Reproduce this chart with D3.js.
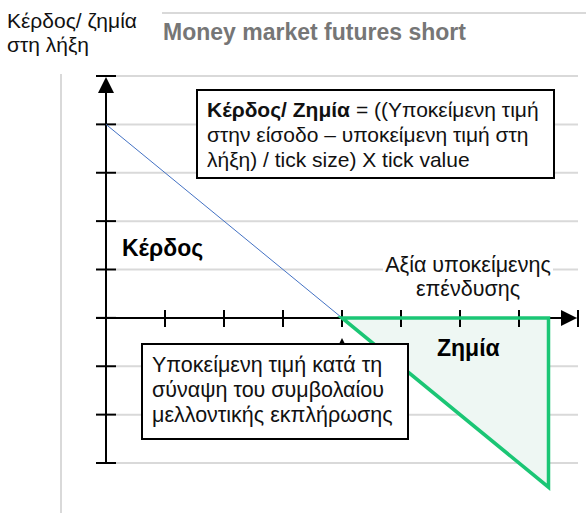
<!DOCTYPE html>
<html>
<head>
<meta charset="utf-8">
<script src="https://cdn.jsdelivr.net/npm/d3@7"></script>
<style>
  body { margin: 0; background: #fff; }
  text { font-family: "Liberation Sans", Arial, sans-serif; }
</style>
</head>
<body>
<div id="chart"></div>
<script>
// Data
let xTicks = [1, 2, 3, 4, 5, 6, 7];
let yTicks = [-3, -2, -1, 0, 1, 2, 3, 4, 5];
let profitLine = [{x: 0, y: 4}, {x: 4, y: 0}];
let lossArea = [{x: 4, y: 0}, {x: 7.5, y: 0}, {x: 7.5, y: -3.5}];

let yAxisTitle = ["Κέρδος/ ζημία", "στη λήξη"];
let chartTitle = "Money market futures short";
let xAxisTitle = ["Αξία υποκείμενης", "επένδυσης"];
let formulaLines = [["Κέρδος/ Ζημία", " = ((Υποκείμενη τιμή"], ["", "στην είσοδο – υποκείμενη τιμή στη"], ["", "λήξη) / tick size) X tick value"]];
let entryLines = ["Υποκείμενη τιμή κατά τη", "σύναψη του συμβολαίου", "μελλοντικής εκπλήρωσης"];

//Width and Height
let width = 586;
let height = 513;

//Colors
let colors = {grid: "#d9d9d9", axis: "#000", blue: "#4472c4", green: "#1bc675", greenFill: "#eef7f3", title: "#767676"};

let x = d3.scaleLinear().domain([0, 8]).range([106, 578]);
let y = d3.scaleLinear().domain([-3, 5]).range([463, 76]);

let svg = d3.select("#chart")
  .append("svg")
  .attr("width", width)
  .attr("height", height);

//Frame lines
svg.append("line")
  .attr("x1", 162).attr("x2", width)
  .attr("y1", 13).attr("y2", 13)
  .attr("stroke", colors.grid).attr("stroke-width", 2);
svg.append("line")
  .attr("x1", 61).attr("x2", 61)
  .attr("y1", 74).attr("y2", height)
  .attr("stroke", colors.grid).attr("stroke-width", 2);

//Titles
svg.append("g")
  .selectAll("text")
  .data(yAxisTitle)
  .enter()
  .append("text")
  .attr("x", 7)
  .attr("y", (d, i) => 28 + i * 24)
  .attr("font-size", 21)
  .attr("fill", "#111")
  .text(d => d);

svg.append("text")
  .attr("x", 163)
  .attr("y", 40)
  .attr("font-size", 23)
  .attr("font-weight", "bold")
  .attr("fill", colors.title)
  .text(chartTitle);

//Gridlines
svg.append("g")
  .selectAll("line")
  .data(yTicks)
  .enter()
  .append("line")
  .attr("x1", x(0) + 10)
  .attr("x2", x(8))
  .attr("y1", d => y(d))
  .attr("y2", d => y(d))
  .attr("stroke", colors.grid)
  .attr("stroke-width", 2);

//Loss area
let pts = lossArea.map(d => [x(d.x), y(d.y)]);
svg.append("path")
  .attr("d", "M" + pts.join("L") + "Z")
  .attr("fill", colors.greenFill)
  .attr("stroke", "none");

//Axes
let axis = svg.append("g").attr("stroke", colors.axis).attr("stroke-width", 2);
axis.append("line")
  .attr("x1", x(0)).attr("x2", x(0))
  .attr("y1", y(5) + 10).attr("y2", y(-3));
axis.append("line")
  .attr("x1", x(0) - 10).attr("x2", x(8) - 12)
  .attr("y1", y(0)).attr("y2", y(0));

axis.selectAll(".ytick")
  .data(yTicks)
  .enter()
  .append("line")
  .attr("x1", x(0) - 10).attr("x2", x(0) + 10)
  .attr("y1", d => y(d)).attr("y2", d => y(d));

axis.selectAll(".xtick")
  .data(xTicks.concat([8]))
  .enter()
  .append("line")
  .attr("x1", d => x(d)).attr("x2", d => x(d))
  .attr("y1", y(0) - 8).attr("y2", y(0) + 9);

//Arrowheads
svg.append("path")
  .attr("d", `M${x(0)},${y(5) + 1}L${x(0) - 8},${y(5) + 17}L${x(0) + 8},${y(5) + 17}Z`)
  .attr("fill", colors.axis);
svg.append("path")
  .attr("d", `M${x(8) - 1},${y(0)}L${x(8) - 17},${y(0) - 8}L${x(8) - 17},${y(0) + 8}Z`)
  .attr("fill", colors.axis);

//Profit line
let line = d3.line().x(d => x(d.x)).y(d => y(d.y));
svg.append("path")
  .datum(profitLine)
  .attr("d", line)
  .attr("fill", "none")
  .attr("stroke", colors.blue)
  .attr("stroke-width", 1);

//Loss outline
svg.append("path")
  .datum(lossArea)
  .attr("d", d => line(d) + "Z")
  .attr("fill", "none")
  .attr("stroke", colors.green)
  .attr("stroke-width", 3.5)
  .attr("stroke-linejoin", "miter");

//Pointer from entry box to the strike
svg.append("path")
  .attr("d", `M${x(4)},${y(0) + 20}L${x(4) - 3},${y(0) + 26}L${x(4) + 3},${y(0) + 26}Z`)
  .attr("fill", colors.axis);

//Region labels
svg.append("text")
  .attr("x", 122).attr("y", 256)
  .attr("font-size", 23).attr("font-weight", "bold")
  .text("Κέρδος");
svg.append("text")
  .attr("x", 437).attr("y", 356)
  .attr("font-size", 23).attr("font-weight", "bold")
  .text("Ζημία");

//X axis title with white background
svg.append("rect")
  .attr("x", 383).attr("y", 255)
  .attr("width", 170).attr("height", 44)
  .attr("fill", "#fff");
svg.append("g")
  .selectAll("text")
  .data(xAxisTitle)
  .enter()
  .append("text")
  .attr("x", 468)
  .attr("y", (d, i) => 272 + i * 24)
  .attr("text-anchor", "middle")
  .attr("font-size", 21.5)
  .attr("fill", "#111")
  .text(d => d);

//Formula box
svg.append("rect")
  .attr("x", 197).attr("y", 90)
  .attr("width", 357).attr("height", 88)
  .attr("fill", "#fff")
  .attr("stroke", "#000")
  .attr("stroke-width", 2);
let formula = svg.append("text")
  .attr("font-size", 21)
  .attr("fill", "#111");
formulaLines.forEach(function(l, i) {
  let row = formula.append("tspan").attr("x", 207).attr("y", 117 + i * 25);
  if (l[0]) row.append("tspan").attr("font-weight", "bold").text(l[0]);
  row.append("tspan").text(l[1]);
});

//Entry price box
svg.append("rect")
  .attr("x", 142).attr("y", 344)
  .attr("width", 266).attr("height", 95)
  .attr("fill", "#fff")
  .attr("stroke", "#000")
  .attr("stroke-width", 2);
svg.append("g")
  .selectAll("text")
  .data(entryLines)
  .enter()
  .append("text")
  .attr("x", 152)
  .attr("y", (d, i) => 372 + i * 25)
  .attr("font-size", 21.5)
  .attr("fill", "#111")
  .text(d => d);
</script>
</body>
</html>
